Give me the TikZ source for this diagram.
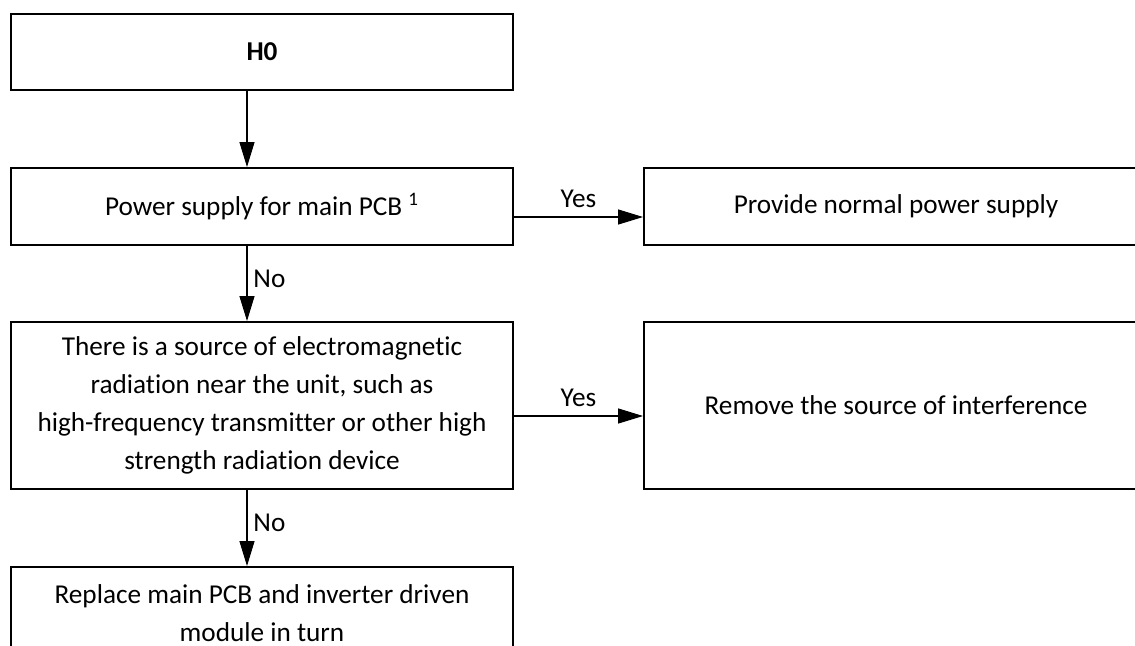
\documentclass[tikz,border=0pt]{standalone}
\usepackage{fontspec}
\setmainfont{Carlito}[Ligatures=NoCommon]
\usetikzlibrary{arrows.meta,positioning}

\begin{document}
\begin{tikzpicture}[
    box/.style={rectangle, draw, line width=1.1pt, minimum width=10.04cm, align=center,
                font=\fontsize{15.5}{21.5}\selectfont},
    conn/.style={-{Triangle[length=0.5cm, width=0.3cm]}, line width=0.7pt},
    lab/.style={font=\fontsize{15.5}{18}\selectfont}
]
\useasboundingbox (0,0) rectangle (22.7,-12.9);
\clip (0,0) rectangle (22.7,-12.9);

\node[box, minimum height=1.52cm] (h0) at (5.24,-1.04) {\textbf{H0}};
\node[box, minimum height=1.54cm] (pwr) at (5.24,-4.13) {Power supply for main PCB \textsuperscript{1}};
\node[box, minimum height=1.54cm, minimum width=10.08cm] (normal) at (17.92,-4.13) {Provide normal power supply};
\node[box, minimum height=3.34cm] (emr) at (5.24,-8.11) {There is a source of electromagnetic\\radiation near the unit, such as\\high-frequency transmitter or other high\\strength radiation device};
\node[box, minimum height=3.34cm, minimum width=10.08cm] (remove) at (17.92,-8.11) {Remove the source of interference};
\node[box, minimum height=1.86cm] (repl) at (5.24,-12.27) {Replace main PCB and inverter driven\\module in turn};

\draw[conn] ([xshift=-0.3cm]h0.south) -- ([xshift=-0.3cm]pwr.north);
\draw[conn] ([yshift=-0.21cm]pwr.east) -- node[lab, above=0.06cm] {Yes} ([yshift=-0.21cm]normal.west);
\draw[conn] ([xshift=-0.3cm]pwr.south) -- node[lab, right, yshift=0.1cm] {No} ([xshift=-0.3cm]emr.north);
\draw[conn] ([yshift=-0.21cm]emr.east) -- node[lab, above=0.06cm] {Yes} ([yshift=-0.21cm]remove.west);
\draw[conn] ([xshift=-0.3cm]emr.south) -- node[lab, right, yshift=0.1cm] {No} ([xshift=-0.3cm]repl.north);
\end{tikzpicture}
\end{document}
